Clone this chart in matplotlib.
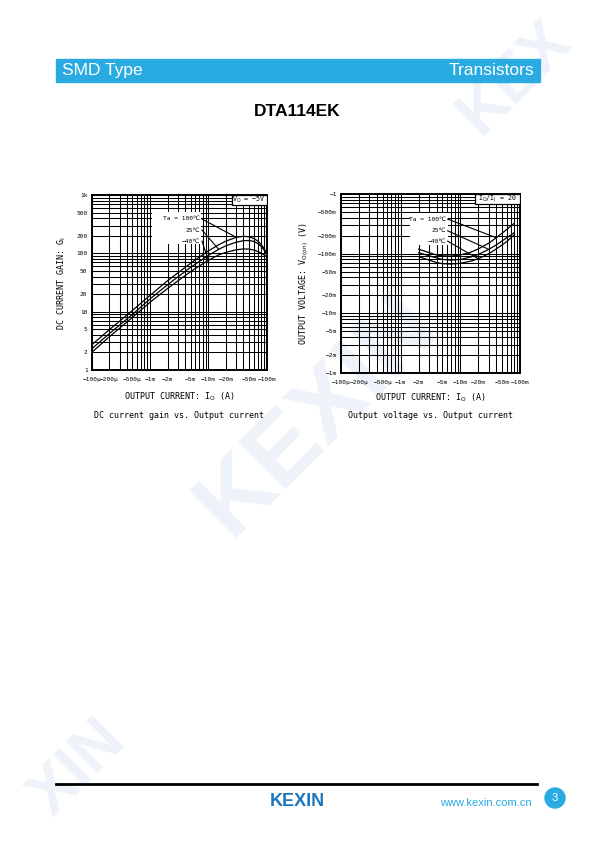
import matplotlib
matplotlib.use("Agg")
import matplotlib.pyplot as plt
from matplotlib.patches import Rectangle, Ellipse
from matplotlib.lines import Line2D
from matplotlib.ticker import FixedLocator, LogLocator, NullFormatter, FixedFormatter

# ---- data (magnitudes, sign shown in tick labels) ----
# DC current gain vs output current, Vo = -5V  (current in mA)
io_gain = [0.1, 0.2, 0.5, 1, 2, 5, 10, 15, 20, 30, 40, 50, 60, 70, 80, 90, 100]
gain_100c = [2.7, 4.9, 10.5, 19, 34, 68, 110, 140, 162, 188, 196, 192, 180, 163, 143, 122, 100]
gain_25c = [2.3, 4.2, 9.0, 16.5, 29, 58, 92, 117, 135, 155, 165, 166, 160, 148, 132, 115, 98]
gain_m40c = [2.0, 3.7, 8.0, 14.5, 25, 49, 76, 94, 104, 115, 119, 118, 114, 108, 101, 94, 88]

# output voltage vs output current, Io/Ii = 20  (current in mA, voltage in mV)
io_vo = [2, 3, 4, 5, 7, 10, 15, 20, 30, 40, 50, 60, 70, 80]
vo_100c = [119, 104, 95, 92, 91, 95, 106, 120, 150, 185, 220, 255, 290, 323]
vo_25c = [104, 92, 85, 80, 78, 80, 88, 97, 118, 140, 163, 185, 205, 225]
vo_m40c = [89, 78, 71, 68, 67, 69, 75, 82, 100, 120, 140, 160, 183, 206]

temp_labels = ["Ta = 100℃", "25℃", "−40℃"]

x_ticks = [0.1, 0.2, 0.5, 1, 2, 5, 10, 20, 50, 100]
x_ticklabels = ["−100µ", "−200µ", "−500µ", "−1m", "−2m", "−5m", "−10m", "−20m", "−50m", "−100m"]
gain_ticks = [1, 2, 5, 10, 20, 50, 100, 200, 500, 1000]
gain_ticklabels = ["1", "2", "5", "10", "20", "50", "100", "200", "500", "1k"]
vo_ticks = [1, 2, 5, 10, 20, 50, 100, 200, 500, 1000]
vo_ticklabels = ["−1m", "−2m", "−5m", "−10m", "−20m", "−50m", "−100m", "−200m", "−500m", "−1"]

BLUE = "#29abe2"
WM = "#eef3fa"
MONO = ["DejaVu Sans Mono", "DejaVu Sans"]

plt.rcParams["font.family"] = ["Liberation Sans", "DejaVu Sans"]
plt.rcParams["mathtext.fontset"] = "dejavusans"

W, H = 595, 842
fig = plt.figure(figsize=(W / 100, H / 100), dpi=100)


def fx(px):
    return px / W


def fy(py):
    return 1 - py / H


# faint watermark letters
fig.text(fx(318), fy(415), "KEXIN", rotation=45, fontsize=70, fontweight="bold",
         color=WM, ha="center", va="center", zorder=-5)
fig.text(fx(515), fy(78), "KEX", rotation=45, fontsize=46, fontweight="bold",
         color=WM, ha="center", va="center", zorder=-5)
fig.text(fx(78), fy(768), "XIN", rotation=45, fontsize=46, fontweight="bold",
         color=WM, ha="center", va="center", zorder=-5)

# header bar
fig.add_artist(Rectangle((fx(56), fy(81.7)), fx(540) - fx(56), (81.7 - 59) / H,
                         transform=fig.transFigure, color=BLUE, zorder=1))
fig.text(fx(62), fy(70.5), "SMD Type", color="white", fontsize=12.5, va="center", ha="left")
fig.text(fx(534), fy(70.5), "Transistors", color="white", fontsize=12.5, va="center", ha="right")
fig.text(fx(297), fy(111), "DTA114EK", fontsize=12.5, fontweight="bold", ha="center", va="center")

# footer
fig.add_artist(Line2D([fx(56), fx(537)], [fy(784), fy(784)], color="black", lw=2,
                      transform=fig.transFigure))
fig.text(fx(297), fy(801), "KEXIN", color="#1b75bb", fontsize=13, fontweight="bold",
         ha="center", va="center")
fig.text(fx(532), fy(803), "www.kexin.com.cn", color=BLUE, fontsize=8, ha="right", va="center")
fig.add_artist(Ellipse((fx(555), fy(798)), 20 / W, 20 / H, transform=fig.transFigure,
                       color=BLUE))
fig.text(fx(555), fy(798), "3", color="white", fontsize=8, ha="center", va="center")


def setup(ax, yticks, yticklabels, xlim, ylim):
    ax.set_facecolor("none")
    ax.set_xscale("log")
    ax.set_yscale("log")
    ax.set_xlim(*xlim)
    ax.set_ylim(*ylim)
    ax.xaxis.set_major_locator(FixedLocator(x_ticks))
    ax.xaxis.set_major_formatter(FixedFormatter(x_ticklabels))
    ax.yaxis.set_major_locator(FixedLocator(yticks))
    ax.yaxis.set_major_formatter(FixedFormatter(yticklabels))
    ax.xaxis.set_minor_locator(LogLocator(base=10, subs=range(1, 10)))
    ax.yaxis.set_minor_locator(LogLocator(base=10, subs=range(1, 10)))
    ax.xaxis.set_minor_formatter(NullFormatter())
    ax.yaxis.set_minor_formatter(NullFormatter())
    ax.grid(which="both", color="black", lw=0.75)
    ax.tick_params(which="both", length=0, labelsize=4.4)
    ax.tick_params(axis="x", pad=5)
    ax.tick_params(axis="y", pad=3)
    for lab in ax.get_xticklabels() + ax.get_yticklabels():
        lab.set_family(MONO)
    for s in ax.spines.values():
        s.set_linewidth(1.4)


def labels_box(ax, box, text_x, text_ys, curves, idx):
    ax.add_patch(Rectangle((box[0], box[1]), box[2] - box[0], box[3] - box[1],
                           transform=ax.transAxes, facecolor="white", edgecolor="none",
                           zorder=2.5))
    for lab, ty, (xs, ys), i in zip(temp_labels, text_ys, curves, idx):
        ax.text(text_x, ty, lab, transform=ax.transAxes, ha="right", va="center",
                fontsize=4.5, family=MONO, zorder=4)
        ax.annotate("", xy=(xs[i], ys[i]), xycoords="data",
                    xytext=(text_x + 0.01, ty), textcoords="axes fraction",
                    arrowprops=dict(arrowstyle="-", color="black", lw=0.8,
                                    shrinkA=0, shrinkB=0), zorder=4)


def cond_box(ax, box, text):
    ax.add_patch(Rectangle((box[0], box[1]), box[2] - box[0], box[3] - box[1],
                           transform=ax.transAxes, facecolor="white", edgecolor="black",
                           lw=0.9, zorder=3))
    ax.text((box[0] + box[2]) / 2, (box[1] + box[3]) / 2, text, transform=ax.transAxes,
            ha="center", va="center", fontsize=4.8, family=MONO, zorder=4)


# ---- left chart: DC current gain ----
ax1 = fig.add_axes([fx(91.7), fy(370), 175 / W, 175 / H])
setup(ax1, gain_ticks, gain_ticklabels, (0.1, 100), (1, 1000))
for g in (gain_100c, gain_25c, gain_m40c):
    ax1.plot(io_gain, g, color="black", lw=0.9, zorder=3)
labels_box(ax1, (0.345, 0.72, 0.625, 0.905), 0.62, [0.863, 0.80, 0.737],
           [(io_gain, gain_100c), (io_gain, gain_25c), (io_gain, gain_m40c)], [9, 7, 6])
cond_box(ax1, (0.80, 0.943, 1.0, 1.0), "V$_\\mathrm{O}$ = −5V")
ax1.set_xlabel("OUTPUT CURRENT: I$_\\mathrm{O}$ (A)", fontsize=6, family=MONO, labelpad=6.5)
ax1.set_ylabel("DC CURRENT GAIN: G$_\\mathrm{I}$", fontsize=6, family=MONO, labelpad=6)
ax1.text(0.5, -0.26, "DC current gain vs. Output current", transform=ax1.transAxes,
         ha="center", va="center", fontsize=6, family=MONO)

# ---- right chart: output voltage ----
ax2 = fig.add_axes([fx(341), fy(373), 179 / W, 179 / H])
setup(ax2, vo_ticks, vo_ticklabels, (0.1, 100), (1, 1000))
for v in (vo_100c, vo_25c, vo_m40c):
    ax2.plot(io_vo, v, color="black", lw=0.9, zorder=3)
labels_box(ax2, (0.385, 0.715, 0.595, 0.895), 0.585, [0.86, 0.795, 0.737],
           [(io_vo, vo_100c), (io_vo, vo_25c), (io_vo, vo_m40c)], [9, 8, 7])
cond_box(ax2, (0.75, 0.944, 1.0, 1.0), "I$_\\mathrm{O}$/I$_\\mathrm{I}$ = 20")
ax2.set_xlabel("OUTPUT CURRENT: I$_\\mathrm{O}$ (A)", fontsize=6, family=MONO, labelpad=5)
ax2.set_ylabel("OUTPUT VOLTAGE: V$_\\mathrm{O(on)}$ (V)", fontsize=6, family=MONO, labelpad=5)
ax2.text(0.5, -0.24, "Output voltage vs. Output current", transform=ax2.transAxes,
         ha="center", va="center", fontsize=6, family=MONO)

fig.savefig("out.png", dpi=100)
